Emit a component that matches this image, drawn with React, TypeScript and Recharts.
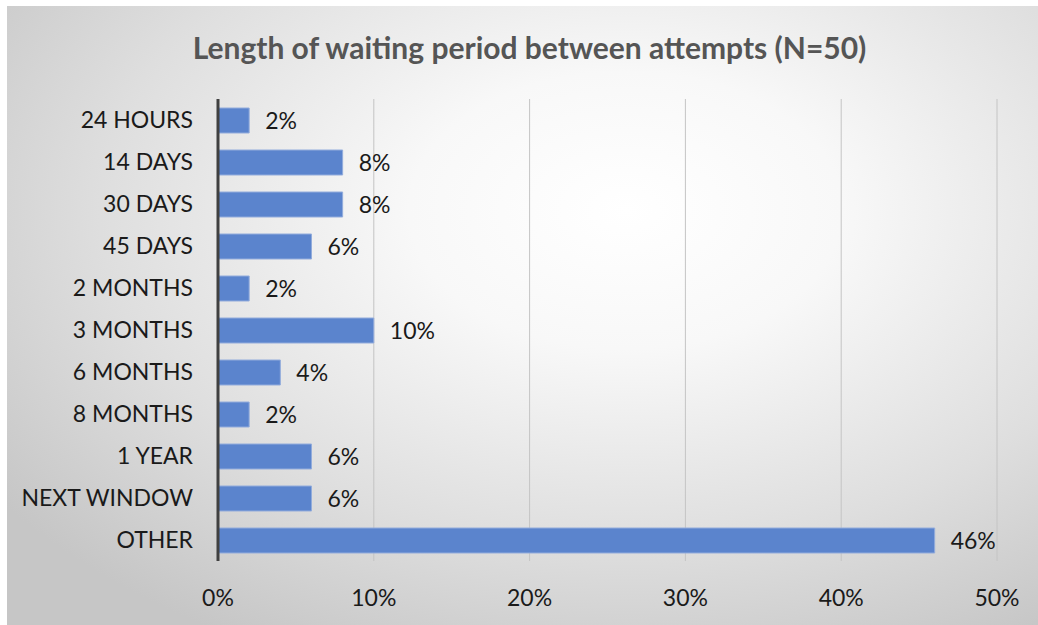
import { BarChart, Bar, XAxis, YAxis, CartesianGrid, LabelList } from "recharts";

const categories = [
  "24 HOURS",
  "14 DAYS",
  "30 DAYS",
  "45 DAYS",
  "2 MONTHS",
  "3 MONTHS",
  "6 MONTHS",
  "8 MONTHS",
  "1 YEAR",
  "NEXT WINDOW",
  "OTHER",
];
const shares = [2, 8, 8, 6, 2, 10, 4, 2, 6, 6, 46];
const xTicks = [0, 10, 20, 30, 40, 50];

const data = categories.map((name, i) => ({ name, share: shares[i] }));

const FONT = "Lato, 'Open Sans', sans-serif";

export default function App() {
  return (
    <div
      style={{
        position: "absolute",
        left: 7,
        top: 6,
        width: 1031,
        height: 619,
        background:
          "radial-gradient(ellipse 75% 80% at 60% 33%, #ffffff 0%, #f8f8f8 28%, #dedede 68%, #c6c6c6 100%)",
        fontFamily: FONT,
      }}
    >
      <div
        style={{
          position: "absolute",
          left: 7,
          width: 1031,
          top: 23,
          textAlign: "center",
          fontSize: 30,
          fontWeight: 700,
          color: "#555555",
        }}
      >
        Length of waiting period between attempts (N=50)
      </div>
      <BarChart
        width={1031}
        height={619}
        data={data}
        layout="vertical"
        margin={{ top: 93, right: 41, bottom: 0, left: 11 }}
        style={{ position: "absolute", left: 0, top: 0 }}
      >
        <CartesianGrid horizontal={false} stroke="#c4c4c4" />
        <XAxis
          type="number"
          domain={[0, 50]}
          ticks={xTicks}
          tickFormatter={(v) => `${v}%`}
          axisLine={false}
          tickLine={false}
          tickSize={0}
          tickMargin={29}
          height={64}
          tick={{ fill: "#1a1a1a", fontSize: 23, fontFamily: FONT }}
        />
        <YAxis
          type="category"
          dataKey="name"
          width={200}
          axisLine={{ stroke: "#404040", strokeWidth: 3 }}
          tickLine={false}
          tickSize={0}
          tickMargin={25}
          interval={0}
          tick={{ fill: "#1a1a1a", fontSize: 23, fontFamily: FONT }}
        />
        <Bar
          dataKey="share"
          fill="#5b84cd"
          stroke="#93acdc"
          strokeWidth={1}
          barSize={25}
          isAnimationActive={false}
        >
          <LabelList
            dataKey="share"
            position="right"
            offset={16}
            formatter={(v: number) => `${v}%`}
            style={{ fill: "#1a1a1a", fontSize: 23, fontFamily: FONT }}
          />
        </Bar>
      </BarChart>
    </div>
  );
}
